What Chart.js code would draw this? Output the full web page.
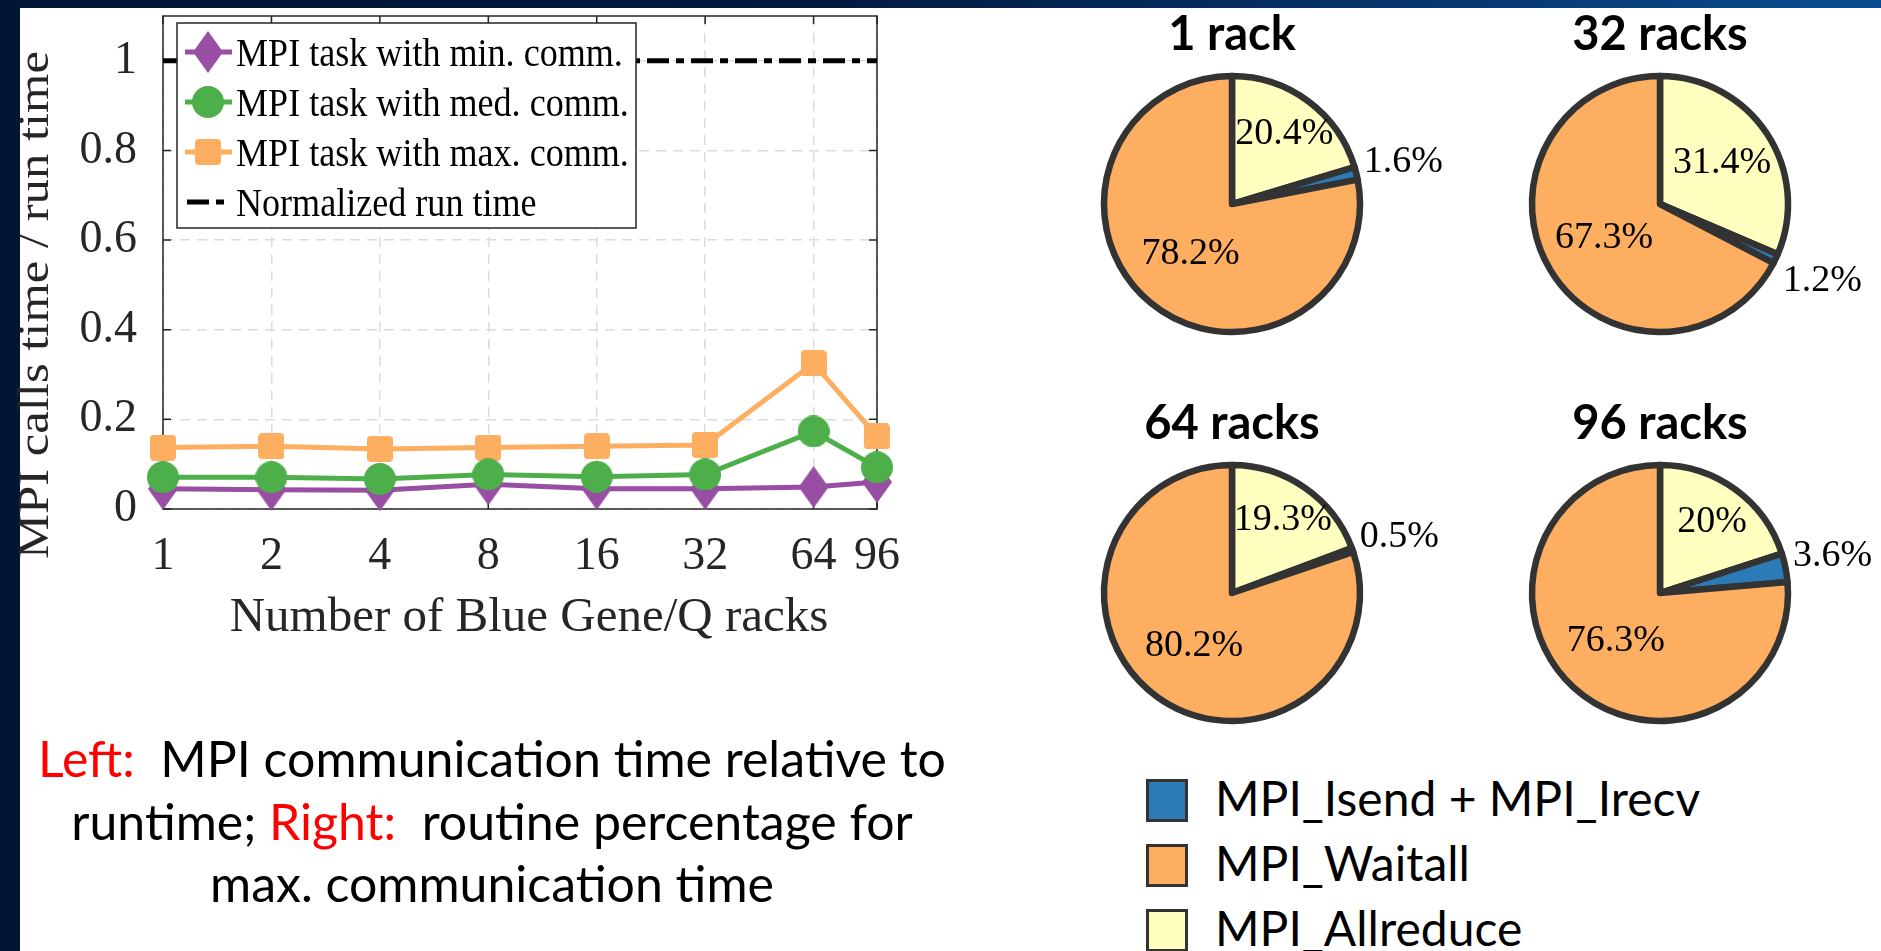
<!DOCTYPE html>
<html>
<head>
<meta charset="utf-8">
<script src="https://cdn.jsdelivr.net/npm/chart.js@4.4.1/dist/chart.umd.min.js"></script>
<style>
  html, body { margin: 0; padding: 0; width: 1881px; height: 951px; overflow: hidden; background: #011634; }
  #topbar { position: absolute; left: 0; top: 0; width: 1881px; height: 8px;
            background: linear-gradient(to right, #011634 0%, #021a40 45%, #0a4c90 100%); }
  #panel { position: absolute; left: 20px; top: 8px; width: 1861px; height: 943px; background: #ffffff; }
  canvas { position: absolute; }
  #caption { position: absolute; left: 0; top: 727px; width: 984px; text-align: center;
             font-family: Lato, "Open Sans", sans-serif; font-size: 50px; line-height: 62.5px; color: #000; white-space: nowrap; }
  #caption .hl { color: #ff0000; }
  .lg-swatch { position: absolute; left: 1146px; width: 42px; height: 43px; box-sizing: border-box; border: 3px solid #333; }
  .lg-text { position: absolute; left: 1215px; height: 43px; line-height: 43px;
             font-family: Lato, "Open Sans", sans-serif; font-size: 48px; color: #000; white-space: nowrap; }
</style>
</head>
<body>
<div id="topbar"></div>
<div id="panel"></div>
<canvas id="lineChart" width="940" height="670" style="left:0;top:0"></canvas>
<div id="caption">
  <div><span class="hl">Left:</span>&nbsp; MPI communication time relative to</div>
  <div>runtime; <span class="hl">Right:</span>&nbsp; routine percentage for</div>
  <div>max. communication time</div>
</div>
<script>
// ---- Left panel: MPI time share per task vs. machine size ----
const racks = [1, 2, 4, 8, 16, 32, 64, 96];
const minComm = [0.045, 0.043, 0.042, 0.055, 0.045, 0.045, 0.049, 0.060];
const medComm = [0.071, 0.071, 0.067, 0.077, 0.072, 0.077, 0.173, 0.093];
const maxComm = [0.137, 0.140, 0.134, 0.137, 0.140, 0.143, 0.325, 0.162];
const normRunTime = [1, 1, 1, 1, 1, 1, 1, 1];
const yTickValues = [0, 0.2, 0.4, 0.6, 0.8, 1];
const seriesNames = ['MPI task with min. comm.', 'MPI task with med. comm.',
                     'MPI task with max. comm.', 'Normalized run time'];

// ---- Right panel: routine share of the max. communication time ----
const pieTitles = ['1 rack', '32 racks', '64 racks', '96 racks'];
const allreducePct = [20.4, 31.4, 19.3, 20];
const isendIrecvPct = [1.6, 1.2, 0.5, 3.6];
const waitallPct = [78.2, 67.3, 80.2, 76.3];
const routineNames = ['MPI_Allreduce', 'MPI_Isend + MPI_Irecv', 'MPI_Waitall'];
const legendOrder = ['MPI_Isend + MPI_Irecv', 'MPI_Waitall', 'MPI_Allreduce'];

const PURPLE = '#984ea3', GREEN = '#4daf4a', ORANGE = '#fdae61';
const routineColors = { 'MPI_Allreduce': '#ffffbf', 'MPI_Isend + MPI_Irecv': '#2c7bb6', 'MPI_Waitall': '#fdae61' };
const AXIS = '#262626';
const SERIF = '"Liberation Serif", "Times New Roman", serif';

// marker sprites
function sprite(w, h, paint) {
  const c = document.createElement('canvas');
  c.width = w; c.height = h;
  paint(c.getContext('2d'), w, h);
  return c;
}
const diamondMark = sprite(30, 42, (g, w, h) => {
  g.fillStyle = PURPLE; g.beginPath();
  g.moveTo(w / 2, 0); g.lineTo(w, h / 2); g.lineTo(w / 2, h); g.lineTo(0, h / 2);
  g.closePath(); g.fill();
});
const discMark = sprite(32, 32, (g, w, h) => {
  g.fillStyle = GREEN; g.beginPath(); g.arc(w / 2, h / 2, w / 2, 0, Math.PI * 2); g.fill();
});
const squareMark = sprite(26, 26, (g, w, h) => {
  g.fillStyle = ORANGE; g.beginPath(); g.roundRect(0, 0, w, h, 4); g.fill();
});

function series(label, values, color, marker, order) {
  return {
    label, order, clip: false, tension: 0,
    data: racks.map((r, i) => ({ x: r, y: values[i] })),
    borderColor: color, backgroundColor: color, borderWidth: 5,
    pointStyle: marker, pointRadius: marker ? 16 : 0, pointHoverRadius: marker ? 16 : 0, pointBorderWidth: 0
  };
}

const datasets = [
  series(seriesNames[0], minComm, PURPLE, diamondMark, 2),
  series(seriesNames[1], medComm, GREEN, discMark, 0),
  series(seriesNames[2], maxComm, ORANGE, squareMark, 1),
  Object.assign(series(seriesNames[3], normRunTime, '#000000', null, 3), { borderDash: [22, 7, 8, 7] })
];

// box, inward ticks, axis titles and the boxed legend
const framePlugin = {
  id: 'frame',
  beforeDatasetsDraw(chart) {
    const { ctx, chartArea: a, scales: { x, y } } = chart;
    const tl = 8;
    ctx.save();
    ctx.strokeStyle = AXIS; ctx.lineWidth = 1.5;
    ctx.beginPath();
    x.ticks.forEach(t => {
      const px = x.getPixelForValue(t.value);
      ctx.moveTo(px, a.bottom); ctx.lineTo(px, a.bottom - tl);
      ctx.moveTo(px, a.top); ctx.lineTo(px, a.top + tl);
    });
    y.ticks.forEach(t => {
      const py = y.getPixelForValue(t.value);
      ctx.moveTo(a.left, py); ctx.lineTo(a.left + tl, py);
      ctx.moveTo(a.right, py); ctx.lineTo(a.right - tl, py);
    });
    ctx.stroke();
    ctx.strokeRect(a.left, a.top, a.right - a.left, a.bottom - a.top);
    ctx.restore();
  },
  afterDraw(chart) {
    const ctx = chart.ctx;
    ctx.save();
    ctx.fillStyle = AXIS;
    // y-axis title
    ctx.save();
    ctx.translate(36, 305);
    ctx.rotate(-Math.PI / 2);
    ctx.font = '44px ' + SERIF;
    ctx.textAlign = 'center'; ctx.textBaseline = 'middle';
    const yTitle = 'MPI calls time / run time';
    ctx.scale(508 / ctx.measureText(yTitle).width, 1);
    ctx.fillText(yTitle, 0, 0);
    ctx.restore();
    // x-axis title
    ctx.font = '49px ' + SERIF;
    ctx.textAlign = 'center'; ctx.textBaseline = 'middle';
    ctx.fillText('Number of Blue Gene/Q racks', 529, 618);

    // legend
    const L = { left: 177, top: 23, right: 636, bottom: 228, row0: 52, pitch: 50 };
    ctx.fillStyle = '#ffffff';
    ctx.fillRect(L.left, L.top, L.right - L.left, L.bottom - L.top);
    ctx.strokeStyle = AXIS; ctx.lineWidth = 1.5;
    ctx.strokeRect(L.left, L.top, L.right - L.left, L.bottom - L.top);
    chart.data.datasets.forEach((ds, i) => {
      const cy = L.row0 + i * L.pitch;
      ctx.save();
      ctx.strokeStyle = ds.borderColor; ctx.lineWidth = ds.borderWidth;
      ctx.setLineDash(ds.borderDash || []);
      ctx.beginPath();
      if (ds.borderDash) { ctx.moveTo(187, cy); ctx.lineTo(226, cy); }
      else { ctx.moveTo(185, cy); ctx.lineTo(232, cy); }
      ctx.stroke();
      ctx.restore();
      if (ds.pointStyle) {
        const m = ds.pointStyle;
        ctx.drawImage(m, 208 - m.width / 2, cy - m.height / 2);
      }
      ctx.save();
      ctx.fillStyle = '#000';
      ctx.font = '41px ' + SERIF;
      ctx.textAlign = 'left'; ctx.textBaseline = 'alphabetic';
      ctx.translate(236, cy + 14);
      ctx.scale(0.88, 1);
      ctx.fillText(ds.label, 0, 0);
      ctx.restore();
    });
    ctx.restore();
  }
};

new Chart(document.getElementById('lineChart'), {
  type: 'line',
  data: { datasets },
  options: {
    responsive: false, animation: false, events: [],
    layout: { padding: { left: 0, top: 9.5, right: 63, bottom: 0 } },
    plugins: { legend: { display: false }, tooltip: { enabled: false } },
    scales: {
      x: {
        type: 'logarithmic', min: 1, max: 96,
        afterBuildTicks: s => { s.ticks = racks.map(v => ({ value: v })); },
        afterFit: s => { s.height = 161; s.paddingLeft = 0; s.paddingRight = 0; },
        grid: { color: '#dcdcdc', lineWidth: 1.5, drawTicks: false },
        border: { display: false, dash: [10, 7] },
        ticks: { callback: v => String(v), autoSkip: false, maxRotation: 0, minRotation: 0,
                 padding: 20, color: AXIS, font: { family: SERIF, size: 46 } }
      },
      y: {
        type: 'linear', min: 0, max: 1.1,
        afterBuildTicks: s => { s.ticks = yTickValues.map(v => ({ value: v })); },
        afterFit: s => { s.width = 163; s.paddingTop = 0; s.paddingBottom = 0; },
        grid: { color: '#dcdcdc', lineWidth: 1.5, drawTicks: false },
        border: { display: false, dash: [10, 7] },
        ticks: { callback: v => String(v), padding: 26, color: AXIS, font: { family: SERIF, size: 46 } }
      }
    }
  },
  plugins: [framePlugin]
});

// ---- pies ----
const pieSlots = [ { cx: 1232, cy: 204 }, { cx: 1660, cy: 204 }, { cx: 1232, cy: 593 }, { cx: 1660, cy: 593 } ];

const pieLabels = {
  id: 'pieLabels',
  afterDatasetsDraw(chart) {
    const ctx = chart.ctx;
    const meta = chart.getDatasetMeta(0);
    const values = chart.data.datasets[0].data;
    ctx.save();
    ctx.fillStyle = '#000';
    ctx.font = '38px ' + SERIF;
    meta.data.forEach((arc, i) => {
      const { x, y, startAngle, endAngle, outerRadius } =
        arc.getProps(['x', 'y', 'startAngle', 'endAngle', 'outerRadius'], true);
      const mid = (startAngle + endAngle) / 2;
      const cos = Math.cos(mid), sin = Math.sin(mid);
      const v = values[i];
      const text = v + '%';
      if (v < 5) {
        const r = outerRadius * 1.06;
        ctx.textAlign = cos >= 0 ? 'left' : 'right';
        ctx.textBaseline = sin < 0 ? 'alphabetic' : 'top';
        ctx.fillText(text, x + r * cos, y + r * sin);
      } else {
        const f = v < 50 ? 0.88 - 0.0095 * v : 0.51;
        ctx.textAlign = 'center'; ctx.textBaseline = 'middle';
        ctx.fillText(text, x + outerRadius * f * cos, y + outerRadius * f * sin);
      }
    });
    ctx.restore();
  }
};

pieTitles.forEach((title, i) => {
  const slot = pieSlots[i];
  const cv = document.createElement('canvas');
  cv.width = 415; cv.height = 344;
  cv.style.left = (slot.cx - 190) + 'px';
  cv.style.top = (slot.cy - 204) + 'px';
  document.body.appendChild(cv);
  new Chart(cv, {
    type: 'pie',
    data: {
      labels: routineNames,
      datasets: [{
        data: [allreducePct[i], isendIrecvPct[i], waitallPct[i]],
        backgroundColor: routineNames.map(n => routineColors[n]),
        borderColor: '#333333', borderWidth: 6.5, borderJoinStyle: 'round'
      }]
    },
    options: {
      responsive: false, animation: false, events: [],
      radius: 128,
      layout: { padding: { left: 0, top: 0, right: 35, bottom: 0 } },
      plugins: {
        legend: { display: false }, tooltip: { enabled: false },
        title: { display: true, text: title, color: '#000',
                 font: { family: 'Lato, "Open Sans", sans-serif', weight: 'bold', size: 47, lineHeight: 1.2 },
                 padding: { top: 7, bottom: 0.6 } }
      }
    },
    plugins: [pieLabels]
  });
});

// legend for the pies
legendOrder.forEach((name, i) => {
  const top = 779 + i * 65;
  const sw = document.createElement('div');
  sw.className = 'lg-swatch';
  sw.style.top = top + 'px';
  sw.style.background = routineColors[name];
  document.body.appendChild(sw);
  const tx = document.createElement('div');
  tx.className = 'lg-text';
  tx.style.top = (top - 3) + 'px';
  tx.textContent = name;
  document.body.appendChild(tx);
});
</script>
</body>
</html>
